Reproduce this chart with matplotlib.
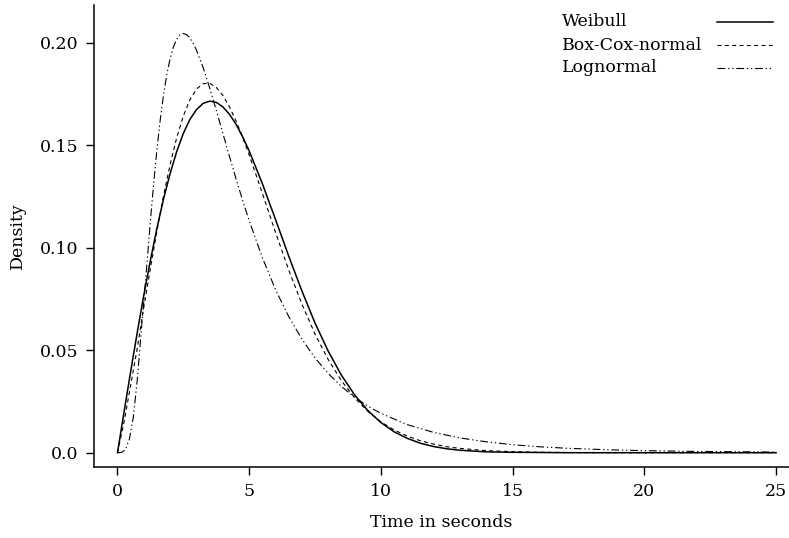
import matplotlib
matplotlib.use("Agg")
import matplotlib.pyplot as plt

# Fitted densities of the response time (seconds)
time_s = [0, 0.25, 0.5, 0.75, 1, 1.25, 1.5, 1.75, 2, 2.25, 2.5, 2.75, 3, 3.25,
          3.5, 3.75, 4, 4.25, 4.5, 4.75, 5, 5.5, 6, 6.5, 7, 7.5, 8, 8.5, 9,
          9.5, 10, 10.5, 11, 11.5, 12, 12.5, 13, 14, 15, 16, 17, 18, 19, 20,
          21, 22, 23, 24, 25]

weibull = [0, 0.0200, 0.0396, 0.0587, 0.0769, 0.0939, 0.1097, 0.1239, 0.1363,
           0.1470, 0.1558, 0.1626, 0.1674, 0.1704, 0.1715, 0.1709, 0.1687,
           0.1651, 0.1602, 0.1541, 0.1472, 0.1312, 0.1137, 0.0959, 0.0789,
           0.0632, 0.0495, 0.0378, 0.0282, 0.0206, 0.0147, 0.0102, 0.0070,
           0.0046, 0.0030, 0.0019, 0.0012, 0.0004, 0.0002, 0.0001, 0, 0, 0,
           0, 0, 0, 0, 0, 0]

boxcox = [0, 0.0150, 0.0330, 0.0510, 0.0711, 0.0900, 0.1083, 0.1255, 0.1407,
          0.1538, 0.1643, 0.1722, 0.1774, 0.1800, 0.1802, 0.1782, 0.1743,
          0.1687, 0.1618, 0.1539, 0.1452, 0.1265, 0.1074, 0.0891, 0.0725,
          0.0578, 0.0454, 0.0351, 0.0268, 0.0202, 0.0150, 0.0111, 0.0081,
          0.0058, 0.0042, 0.0029, 0.0021, 0.0010, 0.0005, 0.0002, 0.0001, 0,
          0, 0, 0, 0, 0, 0, 0]

# the lognormal rises and turns faster, so it is read on a finer grid early on
time_ln = [0, 0.15, 0.3, 0.45, 0.6, 0.75, 0.9, 1, 1.125, 1.25, 1.375, 1.5,
           1.625, 1.75, 1.875, 2, 2.125, 2.25, 2.375, 2.5, 2.625, 2.75, 2.875,
           3, 3.25, 3.5, 3.75, 4, 4.25, 4.5, 4.75, 5, 5.5, 6, 6.5, 7, 7.5, 8,
           8.5, 9, 9.5, 10, 11, 12, 13, 14, 15, 16, 17, 18, 19, 20, 21, 22,
           23, 24, 25]

lognormal = [0, 0.0001, 0.0015, 0.0065, 0.0172, 0.0355, 0.0590, 0.0740, 0.0933,
             0.1131, 0.1317, 0.1483, 0.1627, 0.1749, 0.1847, 0.1924, 0.1980,
             0.2017, 0.2039, 0.2045, 0.2039, 0.2023, 0.1997, 0.1963, 0.1879,
             0.1779, 0.1670, 0.1558, 0.1446, 0.1336, 0.1231, 0.1131, 0.0951,
             0.0795, 0.0664, 0.0554, 0.0462, 0.0386, 0.0323, 0.0271, 0.0227,
             0.0192, 0.0137, 0.0099, 0.0072, 0.0053, 0.0039, 0.0029, 0.0022,
             0.0017, 0.0013, 0.0010, 0.0008, 0.0006, 0.0005, 0.0004, 0.0003]

labels = ["Weibull", "Box-Cox-normal", "Lognormal"]
x_ticks = [0, 5, 10, 15, 20, 25]
y_ticks = [0.0, 0.05, 0.10, 0.15, 0.20]
y_ticklabels = ["0.0", "0.05", "0.10", "0.15", "0.20"]

plt.rcParams["font.family"] = ["DejaVu Serif"]
plt.rcParams["font.size"] = 12.5

W, H = 789, 538
fig = plt.figure(figsize=(W / 100, H / 100), dpi=100)
ax = fig.add_axes([94 / W, 1 - 467 / H, (W - 94) / W, (467 - 5) / H])

styles = [
    dict(color="black", lw=1.1, ls="-"),
    dict(color="black", lw=0.8, ls=(0, (3.6, 3.0))),
    dict(color="black", lw=0.8, ls=(0, (7, 2.5, 1.2, 2.5, 1.2, 2.5))),
]
series = [(time_s, weibull), (time_s, boxcox), (time_ln, lognormal)]

for (xs, ys), st in zip(series, styles):
    ax.plot(xs, ys, **st)

ax.set_xlim(-0.892, 25.49)
ax.set_ylim(-0.00698, 0.2184)
ax.set_xticks(x_ticks)
ax.set_yticks(y_ticks)
ax.set_yticklabels(y_ticklabels)
ax.tick_params(direction="out", length=5.5, width=1, pad=6, labelsize=12.5)

for side in ("top", "right"):
    ax.spines[side].set_visible(False)
for side in ("left", "bottom"):
    ax.spines[side].set_linewidth(1.1)

ax.set_xlabel("Time in seconds", labelpad=10)
ax.set_ylabel("Density", labelpad=10)

# key in the upper right: label text on the left, line sample on the right
for i, (lab, st) in enumerate(zip(labels, styles)):
    yc = 1 - (22 + 23 * i) / H
    fig.text(562 / W, yc, lab, ha="left", va="center", fontsize=12.5)
    fig.lines.append(plt.Line2D([717 / W, 773 / W], [yc, yc],
                                transform=fig.transFigure, **st))

fig.savefig("out.png", dpi=100)
